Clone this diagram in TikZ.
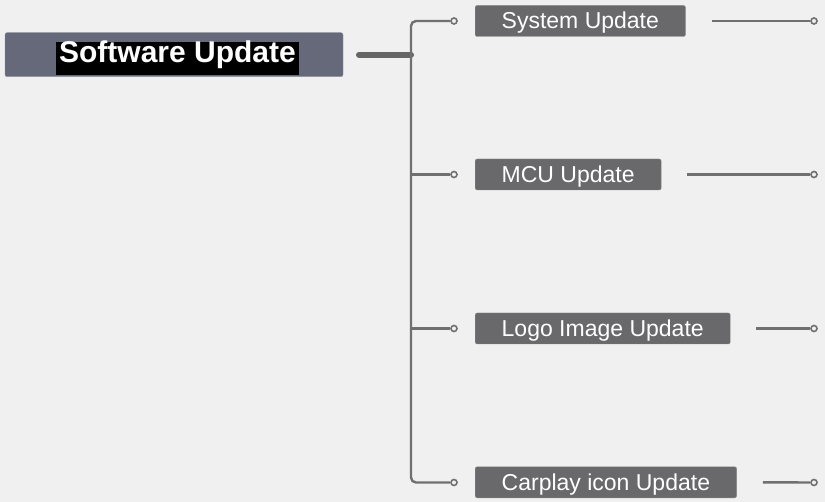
\documentclass[tikz,border=0pt]{standalone}
\usepackage{fontspec}
\setmainfont{Liberation Sans}
\usepackage{tikz}
\usetikzlibrary{positioning, calc}
\definecolor{pagebg}{HTML}{F0F0F0}
\definecolor{rootgray}{HTML}{656979}
\definecolor{leafgray}{HTML}{69696B}
\definecolor{linegray}{HTML}{707070}

\begin{document}
\begin{tikzpicture}[
    x=1pt, y=-1pt,
    root/.style={rectangle, fill=rootgray, draw=rootgray!70!white, rounded corners=2pt, minimum width=338pt, minimum height=44pt},
    roottext/.style={rectangle, fill=black, text=white, inner xsep=3.5pt, inner ysep=0pt, text height=21pt, text depth=12pt, font=\fontsize{30}{34}\selectfont\bfseries},
    leaf/.style={rectangle, fill=leafgray, draw=leafgray!80!white, rounded corners=2pt, text=white, inner xsep=26.5pt, inner ysep=0pt, text height=17pt, text depth=1.5pt, minimum height=31pt, font=\fontsize{23}{27}\selectfont},
    dot/.style={circle, draw=linegray, fill=pagebg, line width=1.6pt, inner sep=0pt, minimum size=6pt},
    stem/.style={line width=6pt, linegray!90!black, line cap=round},
    branch/.style={line width=2.4pt, linegray}
]
\fill[pagebg] (0,0) rectangle (825,502);
\useasboundingbox (0,0) rectangle (825,502);

% root
\node[root] (sw) at (174,54.7) {};
\node[roottext, anchor=base] (swtext) at (177.5,62.7) {Software Update};

% children
\node[leaf, anchor=west] (sys) at (475,21) {System Update};
\node[leaf, anchor=west] (mcu) at (475,174.5) {MCU Update};
\node[leaf, anchor=west] (logo) at (475,328.5) {Logo Image Update};
\node[leaf, anchor=west] (car) at (475,482.3) {Carplay icon Update};

% end dots
\node[dot] (sysin) at (454,21) {};
\node[dot] (mcuin) at (454,174.5) {};
\node[dot] (logoin) at (454,328.5) {};
\node[dot] (carin) at (454,482.5) {};
\node[dot] (sysout) at (814,21) {};
\node[dot] (mcuout) at (814,174.5) {};
\node[dot] (logoout) at (814,328.5) {};
\node[dot] (carout) at (814,482.5) {};

\coordinate (swout) at (359,54.7);
\coordinate (trunk) at (411,54.7);
\coordinate (sysend) at ($(sys.east)+(26,0)$);
\coordinate (mcuend) at ($(mcu.east)+(26,0)$);
\coordinate (logoend) at ($(logo.east)+(26,0)$);
\coordinate (carend) at ($(car.east)+(26,0)$);

% connectors
\draw[stem] (swout) -- (trunk);
\draw[branch, rounded corners=5pt] (sysin.west) -| (trunk) |- (carin.west);
\draw[branch] (trunk |- mcuin) -- (mcuin.west);
\draw[branch] (trunk |- logoin) -- (logoin.west);
\draw[branch] (sysend) -- (sysout.west);
\draw[branch] (mcuend) -- (mcuout.west);
\draw[branch] (logoend) -- (logoout.west);
\draw[branch] (carend) -- (carout.west);
\end{tikzpicture}
\end{document}
